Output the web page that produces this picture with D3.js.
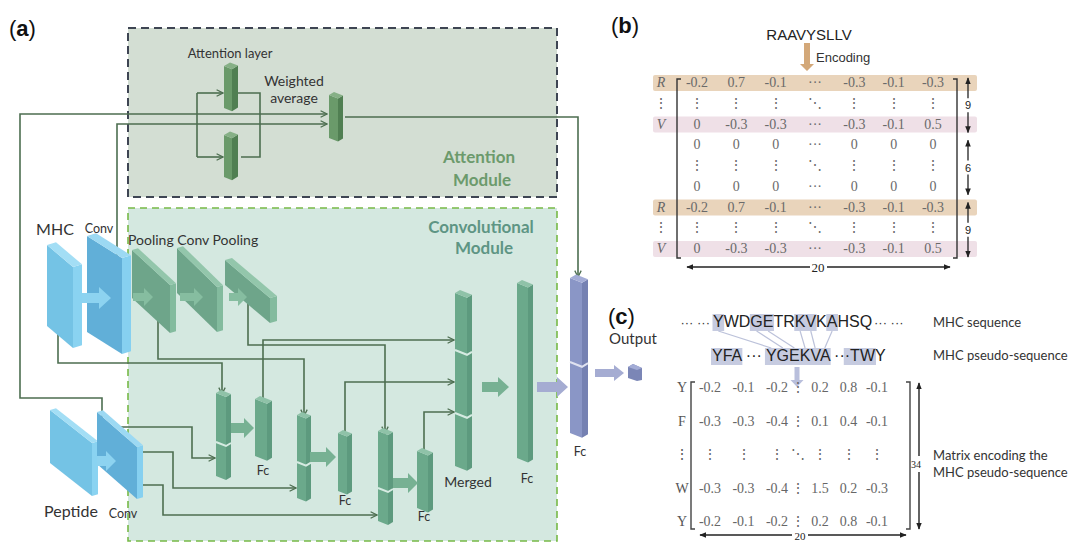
<!DOCTYPE html>
<html lang="en"><head>
<meta charset="utf-8">
<title>Network diagram</title>
<script src="https://cdn.jsdelivr.net/npm/d3@7"></script>
<style>body{margin:0;background:#fff;}</style>
</head>
<body>
<script type="text/javascript">

var width = 1068;
var height = 542;

// ---- data ----
var panelLabels = ["a", "b", "c"];
var moduleTitles = [["Attention", "Module"], ["Convolutional", "Module"]];

var peptide = "RAAVYSLLV";
var bRowLabels = ["R", "\u22EE", "V", "", "", "", "R", "\u22EE", "V"];
var rowR = ["-0.2", "0.7", "-0.1", "\u00B7\u00B7\u00B7", "-0.3", "-0.1", "-0.3"];
var rowV = ["0", "-0.3", "-0.3", "\u00B7\u00B7\u00B7", "-0.3", "-0.1", "0.5"];
var rowZ = ["0", "0", "0", "\u00B7\u00B7\u00B7", "0", "0", "0"];
var rowDots = ["\u22EE", "\u22EE", "\u22EE", "\u22F1", "\u22EE", "\u22EE", "\u22EE"];
var bMatrix = [rowR, rowDots, rowV, rowZ, rowDots, rowZ, rowR, rowDots, rowV];
var bBands = [{row: 0, kind: "R"}, {row: 2, kind: "V"}, {row: 6, kind: "R"}, {row: 8, kind: "V"}];
var bSpans = [{from: 0, to: 2, label: "9"}, {from: 3, to: 5, label: "6"}, {from: 6, to: 8, label: "9"}];
var bColCount = "20";

var mhcSeq = "YWDGETRKVKAHSQ";
var seqMarked = [0, 3, 4, 7, 8, 10];
var pseudoSeq = "YFA \u00B7\u00B7\u00B7 YGEKVA \u00B7\u00B7\u00B7TWY";
var pseudoMarked = [[0, 3], [8, 14], [17, 20]];
var pseudoTarget = [8, 9, 10, 11, 12, 13];

var cRowLabels = ["Y", "F", "\u22EE", "W", "Y"];
var cMatrix = [
  ["-0.2", "-0.1", "-0.2", "\u22EE", "0.2", "0.8", "-0.1"],
  ["-0.3", "-0.3", "-0.4", "\u22EE", "0.1", "0.4", "-0.1"],
  ["\u22EE", "\u22EE", "\u22EE", "\u22F1", "\u22EE", "\u22EE", "\u22EE"],
  ["-0.3", "-0.3", "-0.4", "\u22EE", "1.5", "0.2", "-0.3"],
  ["-0.2", "-0.1", "-0.2", "\u22EE", "0.2", "0.8", "-0.1"]
];
var cRowCount = "34";
var cColCount = "20";

// ---- svg ----
var svg = d3.select("body").append("svg")
            .attr("width", width)
            .attr("height", height)
            .style("font-family", "Lato, 'Open Sans', sans-serif");

var defs = svg.append("defs");
defs.append("marker").attr("id", "chev")
    .attr("viewBox", "0 0 10 10").attr("refX", 9).attr("refY", 5)
    .attr("markerWidth", 8).attr("markerHeight", 8)
    .attr("markerUnits", "userSpaceOnUse").attr("orient", "auto")
  .append("path").attr("d", "M1,1 L9,5 L1,9")
    .attr("fill", "none").attr("stroke", "#4d6e50").attr("stroke-width", 1.6);
defs.append("marker").attr("id", "tri")
    .attr("viewBox", "0 0 10 10").attr("refX", 9).attr("refY", 5)
    .attr("markerWidth", 7).attr("markerHeight", 7)
    .attr("markerUnits", "userSpaceOnUse").attr("orient", "auto-start-reverse")
  .append("path").attr("d", "M0,1 L10,5 L0,9 Z").attr("fill", "#222");

var line = d3.line();

// ---- panel (a) boxes ----
svg.append("rect").attr("x", 128).attr("y", 28).attr("width", 429).attr("height", 169)
   .attr("fill", "#d3ded3").attr("stroke", "#3e4553").attr("stroke-width", 2)
   .attr("stroke-dasharray", "8,5");
svg.append("rect").attr("x", 128).attr("y", 208).attr("width", 429).attr("height", 333)
   .attr("fill", "#d4e8e0").attr("stroke", "#77b947").attr("stroke-width", 1.6)
   .attr("stroke-dasharray", "7,5");

// ---- connections ----
var links = [
  [[102, 418], [102, 398], [20, 398], [20, 114], [327, 114]],
  [[117, 258], [117, 124], [327, 124]],
  [[345, 117], [578, 117], [578, 277]],
  [[58, 334], [58, 363], [222, 363], [222, 394]],
  [[158, 321], [158, 359], [304, 359], [304, 416]],
  [[248, 303], [248, 345], [385, 345], [385, 433]],
  [[263, 402], [263, 340], [454, 340]],
  [[345, 435], [345, 382], [454, 382]],
  [[424, 453], [424, 412], [454, 412]],
  [[121, 427], [192, 427], [192, 458], [215, 458]],
  [[142, 452], [173, 452], [173, 488], [296, 488]],
  [[142, 485], [163, 485], [163, 515], [377, 515]],
  [[197, 93], [223, 93]],
  [[197, 157], [223, 157]]
];
var plainLinks = [
  [[197, 93], [197, 157]],
  [[238, 93], [260, 93], [260, 157], [241, 157]]
];
svg.append("g").selectAll("path").data(links).enter().append("path")
   .attr("d", line).attr("fill", "none").attr("stroke", "#4d6e50")
   .attr("stroke-width", 1.6).attr("marker-end", "url(#chev)");
svg.append("g").selectAll("path").data(plainLinks).enter().append("path")
   .attr("d", line).attr("fill", "none").attr("stroke", "#4d6e50")
   .attr("stroke-width", 1.6);

// ---- 3D shapes ----
function poly(g, pts, fill) {
  g.append("path").attr("d", line(pts) + "Z").attr("fill", fill);
}
// thin slab: long face seen obliquely on the left, thin face on the right
function slab(g, xl, yl, xc, yc, b, h, c) {
  var r = b * 0.3;
  poly(g, [[xl, yl], [xc, yc], [xc, yc + h], [xl, yl + h]], c[0]);
  poly(g, [[xc, yc], [xc + b, yc - r], [xc + b, yc - r + h], [xc, yc + h]], c[1]);
  poly(g, [[xl, yl], [xl + b, yl - r], [xc + b, yc - r], [xc, yc]], c[2]);
}
// tall bar with optional seams
function bar(g, x, w, s, y0, y1, c, seams) {
  var k1 = w * 0.4, k2 = s * 0.6;
  poly(g, [[x, y0], [x + w, y0 + k1], [x + w, y1 + k1], [x, y1]], c[0]);
  poly(g, [[x + w, y0 + k1], [x + w + s, y0 + k1 - k2], [x + w + s, y1 + k1 - k2], [x + w, y1 + k1]], c[1]);
  poly(g, [[x, y0], [x + s, y0 - k2], [x + w + s, y0 + k1 - k2], [x + w, y0 + k1]], c[2]);
  (seams || []).forEach(function(n) {
    g.append("path").attr("d", line([[x, n], [x + w, n + k1], [x + w + s, n + k1 - k2]]))
     .attr("fill", "none").attr("stroke", c[3]).attr("stroke-width", 2);
  });
}
function fatArrow(g, x0, x1, y, sh, hh, hl, fill) {
  poly(g, [[x0, y - sh], [x1 - hl, y - sh], [x1 - hl, y - hh], [x1, y],
           [x1 - hl, y + hh], [x1 - hl, y + sh], [x0, y + sh]], fill);
}
function downArrow(g, x, y0, y1, sw, hw, hl, fill) {
  poly(g, [[x - sw, y0], [x + sw, y0], [x + sw, y1 - hl], [x + hw, y1 - hl], [x, y1],
           [x - hw, y1 - hl], [x - sw, y1 - hl]], fill);
}

var shapes = svg.append("g");
var blueA = ["#74c3e5", "#8ad3f1", "#a3def5"];
var blueB = ["#61afd8", "#86d0f0", "#9cd9f3"];
var greenSlab = ["#6ea58a", "#83bb9e", "#93c6ab"];
var greenBar = ["#6ba98b", "#5d9a7e", "#8fc2a8", "#d6ebe2"];
var attBar = ["#6a9a6a", "#507f52", "#86b086", "#cfdccf"];
var purpleBar = ["#8a96c6", "#7581b2", "#a3acd6", "#dfe2f0"];

// attention layers
bar(shapes, 224, 8, 6, 66, 108, attBar);
bar(shapes, 224, 8, 6, 135, 177, attBar);
bar(shapes, 329, 9, 5, 95, 138, attBar);

// inputs
slab(shapes, 47, 245, 73, 267, 9, 81, blueA);
slab(shapes, 87, 236, 122, 258, 9, 96, blueB);
fatArrow(shapes, 82, 111, 298, 5, 11, 12, "#8dd3f0");
slab(shapes, 50, 410, 92, 443, 6, 53, blueA);
slab(shapes, 97, 412, 137, 447, 6, 52, blueB);
fatArrow(shapes, 97, 116, 461, 5, 10, 10, "#8dd3f0");

// pooling / conv
slab(shapes, 132, 250, 170, 285, 6, 48, greenSlab);
fatArrow(shapes, 133, 153, 297, 4, 9, 9, "#86bda0");
slab(shapes, 177, 248, 217, 287, 6, 45, greenSlab);
fatArrow(shapes, 180, 203, 297, 4, 9, 9, "#86bda0");
slab(shapes, 225, 260, 270, 298, 7, 25, greenSlab);
fatArrow(shapes, 229, 247, 297, 4, 9, 9, "#86bda0");

// conv module bars
bar(shapes, 216, 10, 5, 393, 476, greenBar, [442]);
bar(shapes, 255, 12, 5, 399, 456, greenBar);
bar(shapes, 297, 9, 5, 415, 498, greenBar, [462]);
bar(shapes, 338, 9, 5, 433, 491, greenBar);
bar(shapes, 378, 10, 5, 431, 521, greenBar, [488]);
bar(shapes, 417, 11, 5, 451, 508, greenBar);
bar(shapes, 455, 12, 5, 293, 466, greenBar, [350, 413]);
bar(shapes, 517, 11, 5, 283, 458, greenBar);
bar(shapes, 570, 12, 6, 278, 433, purpleBar, [362]);
poly(shapes, [[628, 367], [633, 364], [642, 368], [642, 380], [637, 381], [628, 378]], "#7b86b6");
poly(shapes, [[628, 367], [633, 364], [642, 368], [637, 370]], "#a3acd6");

fatArrow(shapes, 231, 254, 428, 5, 10, 10, "#77b193");
fatArrow(shapes, 310, 336, 457, 5, 10, 10, "#77b193");
fatArrow(shapes, 393, 418, 483, 5, 10, 10, "#77b193");
fatArrow(shapes, 482, 509, 387, 5, 10, 11, "#77b193");
fatArrow(shapes, 537, 568, 387, 5, 10, 11, "#a5acd2");
fatArrow(shapes, 595, 624, 373, 4, 8, 10, "#a5acd2");

// ---- panel (a) text ----
var txt = svg.append("g").attr("fill", "#333");
function label(s, x, y, size, anchor, fill, weight) {
  return txt.append("text").attr("x", x).attr("y", y).attr("font-size", size)
     .attr("text-anchor", anchor || "middle").attr("fill", fill || "#333")
     .attr("font-weight", weight || "normal").text(s);
}
function panelLabel(letter, x, y) {
  var t = txt.append("text").attr("x", x).attr("y", y).attr("font-size", 22)
     .attr("font-family", "'Liberation Sans', Arial, sans-serif").attr("fill", "#111");
  t.append("tspan").text("(");
  t.append("tspan").attr("font-weight", "bold").text(letter);
  t.append("tspan").text(")");
}
panelLabel(panelLabels[0], 9, 36);
panelLabel(panelLabels[1], 611, 33);
panelLabel(panelLabels[2], 608, 324);

label(moduleTitles[0][0], 479, 163, 17, "middle", "#6c9a6c", "bold");
label(moduleTitles[0][1], 482, 186, 17, "middle", "#6c9a6c", "bold");
label(moduleTitles[1][0], 481, 233, 17, "middle", "#5e9584", "bold");
label(moduleTitles[1][1], 484, 254, 17, "middle", "#5e9584", "bold");

label("Attention layer", 230, 58, 13);
label("Weighted", 294, 86, 14);
label("average", 294, 103, 14);
label("MHC", 55, 235, 16);
label("Conv", 99, 233, 12.5);
label("Pooling Conv Pooling", 128, 245, 14, "start");
label("Peptide", 71, 517, 16);
label("Conv", 123, 518, 12.5);
label("Fc", 263, 475, 12.5);
label("Fc", 345, 505, 12.5);
label("Fc", 424, 521, 12.5);
label("Merged", 468, 487, 14);
label("Fc", 527, 483, 12.5);
label("Fc", 580, 456, 12.5);
label("Output", 633, 344, 15);

// ---- panel (b) ----
var pb = svg.append("g");
pb.append("text").attr("x", 809).attr("y", 40).attr("text-anchor", "middle")
  .attr("font-family", "'Liberation Sans', Arial, sans-serif").attr("font-size", 15)
  .attr("fill", "#222").text(peptide);
downArrow(pb, 807, 43, 71, 3, 7, 7, "#d3a879");
pb.append("text").attr("x", 816).attr("y", 62)
  .attr("font-family", "'Liberation Sans', Arial, sans-serif").attr("font-size", 13)
  .attr("fill", "#333").text("Encoding");

var bx = d3.scalePoint().domain(d3.range(7)).range([697, 933]);
var by = d3.scalePoint().domain(d3.range(9)).range([87, 253]);

pb.selectAll("rect.band").data(bBands).enter().append("rect")
  .attr("x", 653).attr("y", function(d) { return by(d.row) - 12; })
  .attr("width", 324).attr("height", 16).attr("rx", 2)
  .attr("fill", function(d) { return d.kind === "R" ? "#e9d4bb" : "#efe0e7"; });

pb.append("path").attr("d", line([[681, 79], [677, 79], [677, 258], [681, 258]]))
  .attr("fill", "none").attr("stroke", "#333").attr("stroke-width", 1.4);
pb.append("path").attr("d", line([[953, 79], [957, 79], [957, 258], [953, 258]]))
  .attr("fill", "none").attr("stroke", "#333").attr("stroke-width", 1.4);

pb.selectAll("text.rl").data(bRowLabels).enter().append("text")
  .attr("x", 661).attr("y", function(d, i) { return by(i); })
  .attr("text-anchor", "middle").attr("font-family", "'Liberation Serif', serif")
  .attr("font-style", function(d) { return d === "\u22EE" ? "normal" : "italic"; })
  .attr("font-size", 14).attr("fill", "#666").text(function(d) { return d; });

bMatrix.forEach(function(row, i) {
  pb.selectAll(null).data(row).enter().append("text")
    .attr("x", function(d, j) { return bx(j); }).attr("y", by(i))
    .attr("text-anchor", "middle").attr("font-family", "'Liberation Serif', serif")
    .attr("font-size", 14).attr("fill", "#6a6a6a").text(function(d) { return d; });
});

bSpans.forEach(function(s) {
  var y0 = by(s.from) - 9, y1 = by(s.to) + 4, ym = (y0 + y1) / 2;
  pb.append("path").attr("d", line([[968, ym - 7], [968, y0]]))
    .attr("stroke", "#222").attr("stroke-width", 1.3).attr("marker-end", "url(#tri)");
  pb.append("path").attr("d", line([[968, ym + 7], [968, y1]]))
    .attr("stroke", "#222").attr("stroke-width", 1.3).attr("marker-end", "url(#tri)");
  pb.append("text").attr("x", 968).attr("y", ym + 4).attr("text-anchor", "middle")
    .attr("font-family", "'Liberation Sans', Arial, sans-serif").attr("font-size", 11)
    .attr("fill", "#222").text(s.label);
});
pb.append("path").attr("d", line([[810, 267], [687, 267]]))
  .attr("stroke", "#222").attr("stroke-width", 1.3).attr("marker-end", "url(#tri)");
pb.append("path").attr("d", line([[827, 267], [950, 267]]))
  .attr("stroke", "#222").attr("stroke-width", 1.3).attr("marker-end", "url(#tri)");
pb.append("text").attr("x", 818).attr("y", 272).attr("text-anchor", "middle")
  .attr("font-family", "'Liberation Serif', serif").attr("font-size", 13)
  .attr("fill", "#222").text(bColCount);

// ---- panel (c) ----
var pc = svg.append("g");
var seqFont = "'Liberation Sans', Arial, sans-serif";
var hl = pc.append("g");
var conn = pc.append("g");
pc.append("text").attr("x", 710).attr("y", 327).attr("text-anchor", "end")
  .attr("font-family", seqFont).attr("font-size", 13).attr("fill", "#333")
  .text("\u00B7\u00B7\u00B7 \u00B7\u00B7\u00B7 ");
var seqText = pc.append("text").attr("x", 713).attr("y", 327)
  .attr("font-family", seqFont).attr("font-size", 16).attr("fill", "#222").text(mhcSeq);
pc.append("text").attr("x", 874).attr("y", 327)
  .attr("font-family", seqFont).attr("font-size", 13).attr("fill", "#333")
  .text("\u00B7\u00B7\u00B7 \u00B7\u00B7\u00B7");
var pseudoText = pc.append("text").attr("x", 712).attr("y", 361)
  .attr("font-family", seqFont).attr("font-size", 16).attr("fill", "#222").text(pseudoSeq);

var sNode = seqText.node(), pNode = pseudoText.node();
seqMarked.forEach(function(i) {
  var e = sNode.getExtentOfChar(i);
  hl.append("rect").attr("x", e.x - 0.5).attr("y", 314).attr("width", e.width + 1)
    .attr("height", 17).attr("fill", "#c6cbe0");
});
pseudoMarked.forEach(function(r) {
  var a = pNode.getExtentOfChar(r[0]), b = pNode.getExtentOfChar(r[1] - 1);
  hl.append("rect").attr("x", a.x - 1).attr("y", 348)
    .attr("width", b.x + b.width - a.x + 2).attr("height", 17).attr("fill", "#c6cbe0");
});
seqMarked.forEach(function(i, k) {
  var a = sNode.getExtentOfChar(i), b = pNode.getExtentOfChar(pseudoTarget[k]);
  conn.append("path")
    .attr("d", line([[a.x + a.width / 2, 331], [b.x + b.width / 2, 348]]))
    .attr("stroke", "#bcc2da").attr("stroke-width", 1.2);
});
downArrow(pc, 797, 367, 387, 2.5, 6.5, 7, "#b9bfdc");

label("MHC sequence", 933, 327, 13, "start");
label("MHC pseudo-sequence", 933, 360, 13, "start");
label("Matrix encoding the", 933, 460, 13, "start");
label("MHC pseudo-sequence", 933, 477, 13, "start");

var cxl = d3.scalePoint().domain([0, 1, 2]).range([710, 777]);
var cxr = d3.scalePoint().domain([4, 5, 6]).range([820, 877]);
function cx(j) { return j < 3 ? cxl(j) : (j > 3 ? cxr(j) : (cxl(2) + cxr(4)) / 2 - 1); }
var cy = d3.scalePoint().domain(d3.range(5)).range([392, 526]);

pc.selectAll("text.rl").data(cRowLabels).enter().append("text")
  .attr("x", 682).attr("y", function(d, i) { return cy(i); })
  .attr("text-anchor", "middle").attr("font-family", "'Liberation Serif', serif")
  .attr("font-size", 14).attr("fill", "#555").text(function(d) { return d; });
cMatrix.forEach(function(row, i) {
  pc.selectAll(null).data(row).enter().append("text")
    .attr("x", function(d, j) { return cx(j); }).attr("y", cy(i))
    .attr("text-anchor", "middle").attr("font-family", "'Liberation Serif', serif")
    .attr("font-size", 14).attr("fill", "#666").text(function(d) { return d; });
});
pc.append("path").attr("d", line([[695, 382], [691, 382], [691, 529], [695, 529]]))
  .attr("fill", "none").attr("stroke", "#444").attr("stroke-width", 1.4);
pc.append("path").attr("d", line([[906, 382], [910, 382], [910, 529], [906, 529]]))
  .attr("fill", "none").attr("stroke", "#444").attr("stroke-width", 1.4);

pc.append("path").attr("d", line([[919, 456], [919, 383]]))
  .attr("stroke", "#222").attr("stroke-width", 1.4).attr("marker-end", "url(#tri)");
pc.append("path").attr("d", line([[919, 472], [919, 529]]))
  .attr("stroke", "#222").attr("stroke-width", 1.4).attr("marker-end", "url(#tri)");
pc.append("text").attr("x", 916).attr("y", 468).attr("text-anchor", "middle")
  .attr("font-family", "'Liberation Serif', serif").attr("font-size", 10)
  .attr("fill", "#222").text(cRowCount);
pc.append("path").attr("d", line([[792, 535], [700, 535]]))
  .attr("stroke", "#222").attr("stroke-width", 1.3).attr("marker-end", "url(#tri)");
pc.append("path").attr("d", line([[808, 535], [906, 535]]))
  .attr("stroke", "#222").attr("stroke-width", 1.3).attr("marker-end", "url(#tri)");
pc.append("text").attr("x", 800).attr("y", 540).attr("text-anchor", "middle")
  .attr("font-family", "'Liberation Serif', serif").attr("font-size", 11)
  .attr("fill", "#222").text(cColCount);

</script>
</body></html>
